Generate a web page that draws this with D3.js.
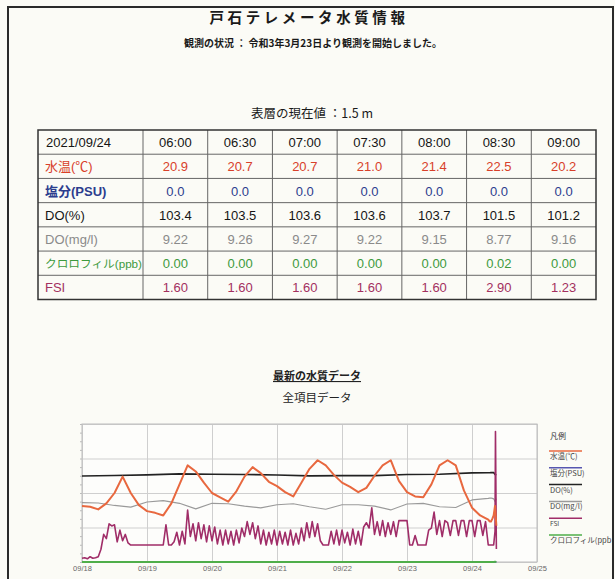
<!DOCTYPE html>
<html>
<head>
<meta charset="utf-8">
<script src="https://cdn.jsdelivr.net/npm/d3@7"></script>
<style>
body { margin: 0; background: #fbfbf6; }
svg { display: block; }
.jp { font-family: "Noto Sans CJK JP", "Noto Sans", sans-serif; }
.en { font-family: "Liberation Sans", Arial, sans-serif; }
.mix { font-family: "Liberation Sans", Arial, "Noto Sans CJK JP", sans-serif; }
</style>
</head>
<body>
<svg id="page"></svg>
<script>
// latest values table
var tableDate = "2021/09/24";
var tableTimes = ["06:00", "06:30", "07:00", "07:30", "08:00", "08:30", "09:00"];
var rowLabels = ["水温(℃)", "塩分(PSU)", "DO(%)", "DO(mg/l)", "クロロフィル(ppb)", "FSI"];
var tempNow = [20.9, 20.7, 20.7, 21.0, 21.4, 22.5, 20.2];
var salNow = [0.0, 0.0, 0.0, 0.0, 0.0, 0.0, 0.0];
var doPctNow = [103.4, 103.5, 103.6, 103.6, 103.7, 101.5, 101.2];
var doMgNow = [9.22, 9.26, 9.27, 9.22, 9.15, 8.77, 9.16];
var chlNow = [0.00, 0.00, 0.00, 0.00, 0.00, 0.02, 0.00];
var fsiNow = [1.60, 1.60, 1.60, 1.60, 1.60, 2.90, 1.23];

// history (start 2021-09-18 00:00)
var histStart = "2021-09-18 00:00";
// every 3 h
var tempHist = [22.5, 22.4, 22.1, 22.8, 24.0, 25.9, 24.0, 22.6,
  21.9, 21.7, 21.4, 22.8, 25.0, 27.2, 26.5, 25.2,
  24.0, 23.5, 23.0, 24.2, 25.9, 27.0, 26.3, 25.3,
  24.8, 24.1, 23.6, 25.2, 26.8, 27.8, 27.2, 26.1,
  25.2, 24.7, 24.1, 24.6, 26.0, 27.2, 27.8, 25.4,
  24.1, 23.6, 23.5, 25.0, 27.2, 27.8, 27.2, 24.3,
  22.3, 21.4];
// every 12 h
var doPctHist = [99.7, 100.3, 101.0, 102.2, 101.8, 101.5, 100.9, 99.8, 100.1, 100.1, 101.5, 101.7, 103.3];
var salHist = [0, 0, 0, 0, 0, 0, 0, 0, 0, 0, 0, 0, 0];
var chlHist = [0, 0, 0, 0, 0, 0, 0, 0, 0, 0, 0, 0, 0];
// every 6 h
var doMgHist = [8.6, 8.55, 8.2, 7.95, 8.7, 8.9, 8.5, 7.7, 8.5, 8.45, 8.1, 7.85,
  8.3, 8.45, 8.0, 7.65, 8.3, 8.3, 8.1, 7.55, 8.4, 8.5, 8.0, 7.9, 9.0];
// hourly
var fsiHist = [0.35, 0.4, 0.3, 0.5, 0.35, 0.4, 0.5, 1.2, 2.6, 2.2, 3.6, 3.4, 3.5, 1.9, 3.0, 2.0, 2.6, 1.8, 1.6, 1.6, 1.6, 1.6, 1.6, 1.6,
  1.6, 1.6, 1.6, 1.6, 1.6, 1.6, 1.6, 3.5, 1.6, 1.6, 1.9, 2.8, 1.6, 2.9, 1.7, 4.9, 2.4, 3.6, 2.0, 3.7, 2.2, 3.5, 1.9, 3.4,
  2.0, 3.3, 1.7, 3.0, 1.6, 3.0, 1.7, 2.9, 1.6, 3.0, 1.8, 3.2, 2.4, 3.8, 2.6, 3.7, 2.2, 3.4, 1.7, 3.0, 1.6, 2.8, 1.7, 3.0,
  1.6, 2.9, 1.7, 2.8, 1.6, 3.0, 1.6, 2.7, 1.7, 3.2, 2.0, 3.7, 2.3, 3.8, 2.4, 3.6, 2.0, 1.6, 1.6, 1.6, 2.9, 1.7, 3.0, 1.6,
  3.0, 1.8, 2.8, 1.6, 3.1, 1.7, 2.9, 1.6, 3.3, 3.7, 3.2, 5.1, 2.6, 3.8, 2.5, 3.9, 2.4, 3.7, 2.6, 3.8, 2.4, 3.9, 3.9, 3.9,
  3.9, 1.6, 1.6, 2.5, 1.6, 1.6, 1.6, 1.6, 3.0, 3.2, 4.7, 2.6, 3.9, 2.4, 3.9, 3.7, 2.5, 3.9, 3.9, 2.5, 3.9, 3.9, 2.4, 3.9,
  3.9, 2.4, 3.9, 3.9, 2.5, 3.8];
var fsiSpikeTime = "2021-09-24 08:40";
var fsiSpike = 12.3;
var dayTicks = ["2021-09-18", "2021-09-19", "2021-09-20", "2021-09-21", "2021-09-22", "2021-09-23", "2021-09-24", "2021-09-25"];

var W = 615, H = 579;
var parseT = d3.timeParse("%Y-%m-%d %H:%M");
var parseD = d3.timeParse("%Y-%m-%d");
var t0 = parseT(histStart);

function series(hist, stepH, now) {
  var pts = hist.map(function(v, i) { return { t: d3.timeHour.offset(t0, i * stepH), v: v }; });
  tableTimes.forEach(function(s, i) {
    pts.push({ t: parseT("2021-09-24 " + s), v: now[i] });
  });
  return pts;
}

var svg = d3.select("#page").attr("width", W).attr("height", H);

// page frame
svg.append("rect").attr("x", 8).attr("y", 7).attr("width", 605).attr("height", H + 10)
  .attr("fill", "none").attr("stroke", "#2a2a2a").attr("stroke-width", 2);

// headings
svg.append("text").attr("class", "jp").attr("x", 309).attr("y", 23)
  .attr("text-anchor", "middle").attr("font-size", 14.5).attr("font-weight", "bold")
  .attr("letter-spacing", 3.6).attr("fill", "#1a1a1a").text("戸石テレメータ水質情報");
svg.append("text").attr("class", "jp").attr("x", 313).attr("y", 47)
  .attr("text-anchor", "middle").attr("font-size", 10).attr("font-weight", "bold")
  .attr("fill", "#1a1a1a").text("観測の状況 ：  令和3年3月23日より観測を開始しました。");
svg.append("text").attr("class", "jp").attr("x", 312).attr("y", 118)
  .attr("text-anchor", "middle").attr("font-size", 12.5).attr("fill", "#1a1a1a")
  .text("表層の現在値 ：1.5 m");

// table
var rowY = d3.scaleBand().domain(d3.range(7)).range([130, 299.5]);
var colX = d3.scaleBand().domain(tableTimes).range([143, 596]);
var rows = [
  { label: rowLabels[0], vals: tempNow, fmt: d3.format(".1f"), color: "#d8402a" },
  { label: rowLabels[1], vals: salNow, fmt: d3.format(".1f"), color: "#2c3d8e" },
  { label: rowLabels[2], vals: doPctNow, fmt: d3.format(".1f"), color: "#151515" },
  { label: rowLabels[3], vals: doMgNow, fmt: d3.format(".2f"), color: "#8a8a8a" },
  { label: rowLabels[4], vals: chlNow, fmt: d3.format(".2f"), color: "#3d9a3d" },
  { label: rowLabels[5], vals: fsiNow, fmt: d3.format(".2f"), color: "#a3305f" }
];
var table = svg.append("g");
table.selectAll("line.h").data(d3.range(1, 7)).join("line")
  .attr("x1", 38).attr("x2", 596)
  .attr("y1", function(d) { return rowY(d); }).attr("y2", function(d) { return rowY(d); })
  .attr("stroke", "#666").attr("stroke-width", 1);
table.selectAll("line.v").data(tableTimes).join("line")
  .attr("x1", function(d) { return colX(d); }).attr("x2", function(d) { return colX(d); })
  .attr("y1", 130).attr("y2", 299.5)
  .attr("stroke", "#666").attr("stroke-width", 1);
table.append("rect").attr("x", 38).attr("y", 130).attr("width", 558).attr("height", 169.5)
  .attr("fill", "none").attr("stroke", "#333").attr("stroke-width", 1.5);

var midY = function(i) { return rowY(i) + rowY.bandwidth() / 2 + 5; };
table.append("text").attr("class", "en").attr("x", 46).attr("y", midY(0))
  .attr("font-size", 13).attr("fill", "#151515").text(tableDate);
table.selectAll("text.hd").data(tableTimes).join("text")
  .attr("class", "en").attr("text-anchor", "middle")
  .attr("x", function(d) { return colX(d) + colX.bandwidth() / 2; }).attr("y", midY(0))
  .attr("font-size", 13).attr("fill", "#151515").text(function(d) { return d; });

rows.forEach(function(r, ri) {
  var lab = table.append("text").attr("class", "mix").attr("x", 45).attr("y", midY(ri + 1))
    .attr("font-size", ri === 4 ? 11 : 13).attr("fill", r.color).text(r.label);
  if (ri === 4) lab.attr("textLength", 97).attr("lengthAdjust", "spacingAndGlyphs");
  if (ri === 1) lab.attr("font-weight", "bold");
  table.selectAll("text.r" + ri).data(r.vals).join("text")
    .attr("class", "en").attr("text-anchor", "middle")
    .attr("x", function(d, i) { return colX(tableTimes[i]) + colX.bandwidth() / 2; })
    .attr("y", midY(ri + 1)).attr("font-size", 13).attr("fill", r.color)
    .text(function(d) { return r.fmt(d); });
});

// chart headings
svg.append("text").attr("class", "jp").attr("x", 317).attr("y", 380)
  .attr("text-anchor", "middle").attr("font-size", 11).attr("font-weight", "bold")
  .attr("text-decoration", "underline").attr("fill", "#222").text("最新の水質データ");
svg.append("text").attr("class", "jp").attr("x", 317).attr("y", 402)
  .attr("text-anchor", "middle").attr("font-size", 11.5).attr("fill", "#222").text("全項目データ");

// chart
var plot = { left: 82, right: 537, top: 424, bottom: 562 };
var x = d3.scaleTime().domain([parseD(dayTicks[0]), parseD(dayTicks[7])]).range([plot.left, plot.right]);
var yr = [plot.bottom, plot.top];
var tempY = d3.scaleLinear().domain([16, 32]).range(yr);
var salY = d3.scaleLinear().domain([0, 40]).range(yr);
var doPctY = d3.scaleLinear().domain([0, 160]).range(yr);
var doMgY = d3.scaleLinear().domain([0, 20]).range(yr);
var fsiY = d3.scaleLinear().domain([0, 13]).range(yr);
var chlY = d3.scaleLinear().domain([0, 10]).range(yr);

var g = svg.append("g");
g.append("rect").attr("x", plot.left).attr("y", plot.top)
  .attr("width", plot.right - plot.left).attr("height", plot.bottom - plot.top)
  .attr("fill", "#fdfdfb");

g.append("g").attr("transform", "translate(0," + plot.bottom + ")")
  .call(d3.axisBottom(x).tickValues(dayTicks.map(parseD))
    .tickSize(-(plot.bottom - plot.top)).tickPadding(4).tickFormat(d3.timeFormat("%m/%d")))
  .call(function(a) {
    a.select(".domain").remove();
    a.selectAll(".tick line").attr("stroke", "#cfcfcf");
    a.selectAll(".tick text").attr("class", "en").attr("font-size", 7.5).attr("fill", "#666");
  });
g.append("g").attr("transform", "translate(" + plot.left + ",0)")
  .call(d3.axisLeft(tempY).tickValues([16, 20, 24, 28, 32])
    .tickSize(-(plot.right - plot.left)).tickFormat(""))
  .call(function(a) {
    a.select(".domain").remove();
    a.selectAll(".tick line").attr("stroke", "#cfcfcf");
  });
g.append("g").attr("transform", "translate(" + plot.left + ",0)")
  .call(d3.axisLeft(tempY).ticks(16).tickSize(2).tickFormat(""))
  .call(function(a) {
    a.select(".domain").remove();
    a.selectAll(".tick line").attr("stroke", "#bbb");
  });
g.append("rect").attr("x", plot.left).attr("y", plot.top)
  .attr("width", plot.right - plot.left).attr("height", plot.bottom - plot.top)
  .attr("fill", "none").attr("stroke", "#bdbdbd");

var fsiPts = series(fsiHist, 1, fsiNow);
fsiPts.splice(fsiPts.length - 1, 0, { t: parseT(fsiSpikeTime), v: fsiSpike });

var lines = [
  { pts: series(salHist, 12, salNow), y: salY, color: "#5656b0", w: 1.5 },
  { pts: series(chlHist, 12, chlNow), y: chlY, color: "#4fae4a", w: 1.8 },
  { pts: series(doMgHist, 6, doMgNow), y: doMgY, color: "#9a9a9a", w: 1.1 },
  { pts: series(doPctHist, 12, doPctNow), y: doPctY, color: "#222", w: 1.6 },
  { pts: fsiPts, y: fsiY, color: "#a02d68", w: 1.6 },
  { pts: series(tempHist, 3, tempNow), y: tempY, color: "#e8683f", w: 2 }
];
lines.forEach(function(s) {
  g.append("path").datum(s.pts)
    .attr("fill", "none").attr("stroke", s.color).attr("stroke-width", s.w)
    .attr("stroke-linejoin", "round")
    .attr("d", d3.line().x(function(d) { return x(d.t); }).y(function(d) { return s.y(d.v); }));
});

// legend
var legendNames = ["水温(℃)", "塩分(PSU)", "DO(%)", "DO(mg/l)", "FSI", "クロロフィル(ppb"];
var legendColors = ["#e8683f", "#5656b0", "#222", "#9a9a9a", "#a02d68", "#4fae4a"];
var leg = svg.append("g").attr("transform", "translate(549,0)");
leg.append("text").attr("class", "jp").attr("x", 1).attr("y", 439)
  .attr("font-size", 8).attr("fill", "#333").text("凡例");
var legY = d3.scalePoint().domain(legendNames).range([451, 535]);
legendNames.forEach(function(n, i) {
  leg.append("line").attr("x1", 0).attr("x2", 33)
    .attr("y1", legY(n)).attr("y2", legY(n))
    .attr("stroke", legendColors[i]).attr("stroke-width", 1.5);
  leg.append("text").attr("class", "jp").attr("x", 1).attr("y", legY(n) + 8)
    .attr("font-size", i === 4 ? 6.5 : 7.5).attr("fill", "#444").text(n);
});
</script>
</body>
</html>
